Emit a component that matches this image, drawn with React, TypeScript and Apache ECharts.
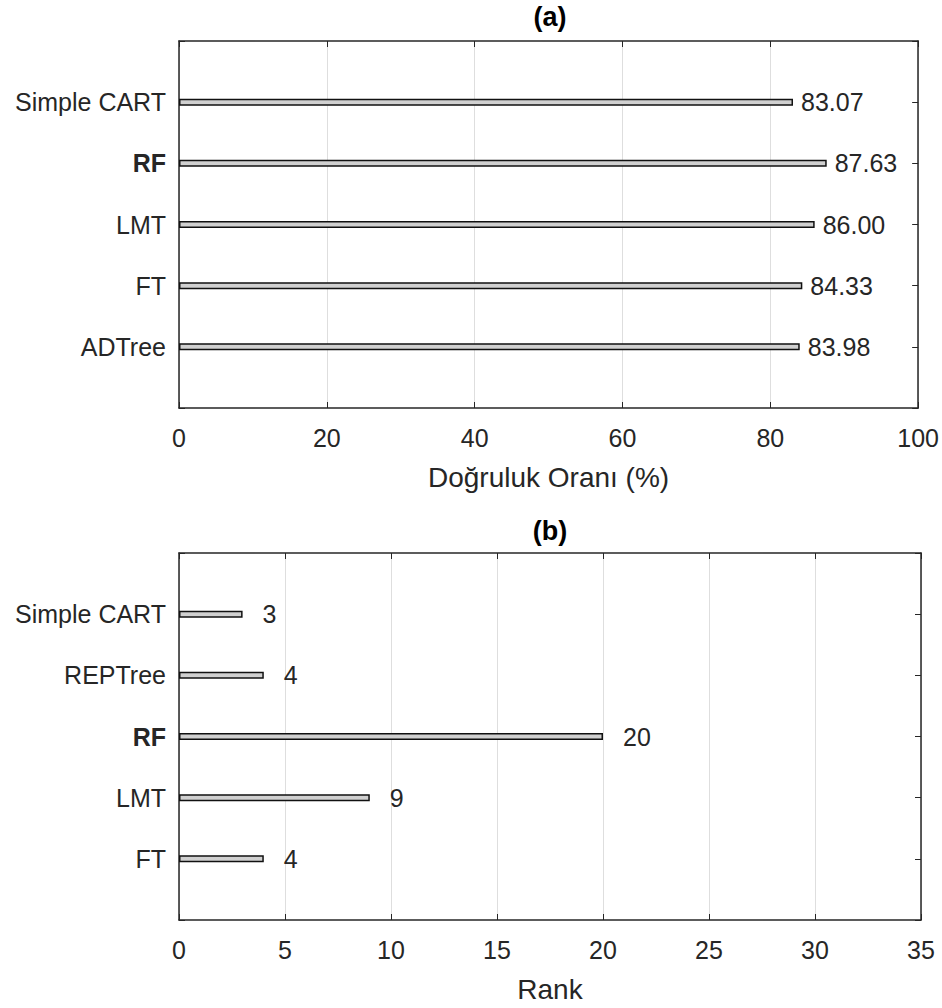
import React, { useEffect, useRef } from "react";
import * as echarts from "echarts";

const catsA = ["", "ADTree", "FT", "LMT", "RF", "Simple CART", ""];
const valsA = [null, 83.98, 84.33, 86.0, 87.63, 83.07, null];
const catsB = ["", "FT", "LMT", "RF", "REPTree", "Simple CART", ""];
const valsB = [null, 4, 9, 20, 4, 3, null];
const titleA = "(a)";
const titleB = "(b)";
const nameA = "Doğruluk Oranı (%)";
const nameB = "Rank";

const FONT = "Liberation Sans, Arial, Helvetica, sans-serif";
const TXT = "#262626";
const LINE = "#262626";

function fmtCat(v: string) {
  return v === "RF" ? "{b|RF}" : v;
}

export default function App() {
  const ref = useRef<HTMLDivElement>(null);
  useEffect(() => {
    const chart = echarts.init(ref.current!, null, { renderer: "svg" });
    const grids = [
      { left: 179, right: 21, top: 41, height: 367 },
      { left: 179, right: 21, top: 553, height: 367 },
    ];
    const valueAxis = (gi: number, max: number, interval: number, name: string) => [
      {
        type: "value",
        gridIndex: gi,
        min: 0,
        max,
        interval,
        position: "bottom",
        name,
        nameLocation: "middle",
        nameGap: 55,
        nameTextStyle: { fontSize: 28, color: TXT, fontFamily: FONT },
        axisLine: { show: true, onZero: false, lineStyle: { color: LINE, width: 1.5 } },
        axisTick: { show: true, inside: true, length: 6, lineStyle: { color: LINE } },
        axisLabel: { fontSize: 25, color: TXT, fontFamily: FONT, margin: 17 },
        splitLine: { show: true, lineStyle: { color: "#dedede", width: 1 } },
      },
      {
        type: "value",
        gridIndex: gi,
        min: 0,
        max,
        interval,
        position: "top",
        axisLine: { show: true, onZero: false, lineStyle: { color: LINE, width: 1.5 } },
        axisTick: { show: true, inside: true, length: 6, lineStyle: { color: LINE } },
        axisLabel: { show: false },
        splitLine: { show: false },
      },
    ];
    const catAxis = (gi: number, cats: string[]) => [
      {
        type: "category",
        gridIndex: gi,
        data: cats,
        boundaryGap: false,
        position: "left",
        axisLine: { show: true, onZero: false, lineStyle: { color: LINE, width: 1.5 } },
        axisTick: { show: true, inside: true, length: 6, lineStyle: { color: LINE } },
        axisLabel: {
          fontSize: 25,
          color: TXT,
          fontFamily: FONT,
          margin: 13,
          formatter: fmtCat,
          rich: { b: { fontSize: 25, fontWeight: "bold", color: TXT, fontFamily: FONT } },
        },
        splitLine: { show: false },
      },
      {
        type: "category",
        gridIndex: gi,
        data: cats,
        boundaryGap: false,
        position: "right",
        axisLine: { show: true, onZero: false, lineStyle: { color: LINE, width: 1.5 } },
        axisTick: { show: true, inside: true, length: 6, lineStyle: { color: LINE } },
        axisLabel: { show: false },
        splitLine: { show: false },
      },
    ];
    const barSeries = (xi: number, yi: number, data: any[], dist: number, fmt: (v: number) => string) => ({
      type: "bar",
      xAxisIndex: xi,
      yAxisIndex: yi,
      data,
      barWidth: 7,
      itemStyle: { color: "#d0d0d0", borderColor: "#111111", borderWidth: 1.5 },
      label: {
        show: true,
        position: "right",
        distance: dist,
        fontSize: 25,
        color: TXT,
        fontFamily: FONT,
        formatter: (p: any) => fmt(p.value),
      },
    });
    chart.setOption({
      animation: false,
      backgroundColor: "#ffffff",
      grid: grids,
      xAxis: [...valueAxis(0, 100, 20, nameA), ...valueAxis(1, 35, 5, nameB)],
      yAxis: [...catAxis(0, catsA), ...catAxis(1, catsB)],
      series: [
        barSeries(0, 0, valsA, 8, (v) => v.toFixed(2)),
        barSeries(2, 2, valsB, 20, (v) => String(v)),
      ],
      graphic: [
        {
          type: "text",
          x: 550,
          y: 17,
          style: { text: titleA, fontSize: 27, fontWeight: "bold", fill: "#000", fontFamily: FONT, align: "center", verticalAlign: "middle" },
        },
        {
          type: "text",
          x: 550,
          y: 531,
          style: { text: titleB, fontSize: 27, fontWeight: "bold", fill: "#000", fontFamily: FONT, align: "center", verticalAlign: "middle" },
        },
      ],
    });
    return () => chart.dispose();
  }, []);
  return (
    <div
      ref={ref}
      style={{ position: "fixed", left: 0, top: 0, width: 942, height: 1008, background: "#fff" }}
    />
  );
}
